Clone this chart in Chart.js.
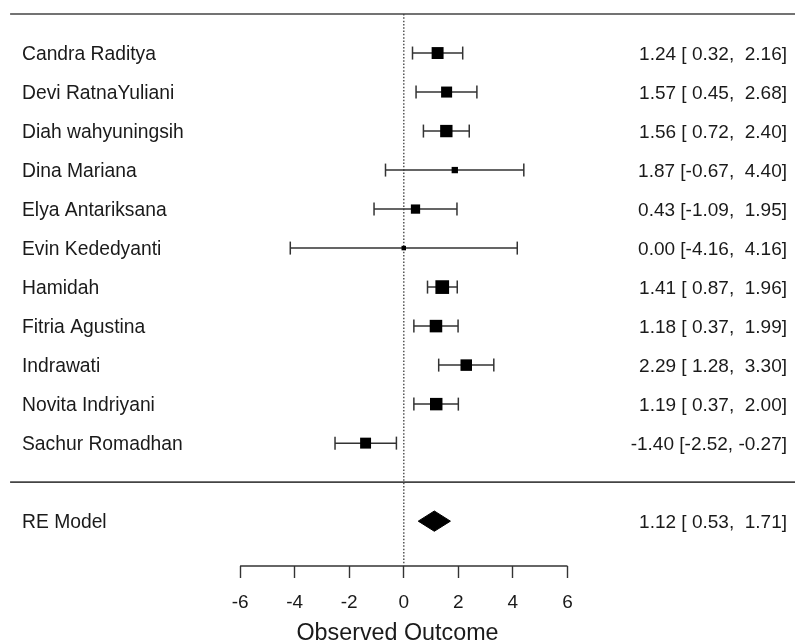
<!DOCTYPE html>
<html>
<head>
<meta charset="utf-8">
<script src="https://cdn.jsdelivr.net/npm/chart.js@4.4.1/dist/chart.umd.min.js"></script>
<style>
  body { margin: 0; background: #fff; }
  canvas { display: block; }
</style>
</head>
<body>
<canvas id="forest" width="795" height="644"></canvas>
<script>
// study data
const studies = ['Candra Raditya', 'Devi RatnaYuliani', 'Diah wahyuningsih', 'Dina Mariana',
  'Elya Antariksana', 'Evin Kededyanti', 'Hamidah', 'Fitria Agustina', 'Indrawati',
  'Novita Indriyani', 'Sachur Romadhan'];
const estimates = [1.24, 1.57, 1.56, 1.87, 0.43, 0.00, 1.41, 1.18, 2.29, 1.19, -1.40];
const ciLower = [0.32, 0.45, 0.72, -0.67, -1.09, -4.16, 0.87, 0.37, 1.28, 0.37, -2.52];
const ciUpper = [2.16, 2.68, 2.40, 4.40, 1.95, 4.16, 1.96, 1.99, 3.30, 2.00, -0.27];
const weights = [10.7, 9.6, 11.2, 4.0, 7.5, 1.8, 12.8, 11.4, 10.2, 11.3, 9.5]; // approx % weight (square size)

const modelLabel = 'RE Model';
const modelEstimate = [1.12];
const modelLower = [0.53];
const modelUpper = [1.71];

const xTicks = [-6, -4, -2, 0, 2, 4, 6];
const xTitle = 'Observed Outcome';

const FONT = "'Liberation Sans', Arial, Helvetica, sans-serif";
const k = studies.length;
const rowOf = i => k - i;
const modelRow = -1;
const yMin = -2.15, yMax = 12.36;
const xMin = -14.80, xMax = 14.34;
const lineLeft = -14.43;

// square side scales with weight (4.5px .. 13.7px)
const wMin = Math.min(...weights), wMax = Math.max(...weights);
const sideOf = w => 4.5 + (w - wMin) / (wMax - wMin) * 9.2;

const squares = estimates.map((e, i) => ({ x: e, y: rowOf(i) }));
const squareRadius = weights.map(w => sideOf(w) / Math.SQRT2);

const ciPoints = [];
const ciRadius = [];
estimates.forEach((e, i) => {
  ciPoints.push({ x: ciLower[i], y: rowOf(i) }, { x: ciUpper[i], y: rowOf(i) }, { x: NaN, y: NaN });
  ciRadius.push(6.5, 6.5, 0);
});

const dh = 0.26;
const diamond = [
  { x: modelLower[0], y: modelRow },
  { x: modelEstimate[0], y: modelRow + dh },
  { x: modelUpper[0], y: modelRow },
  { x: modelEstimate[0], y: modelRow - dh },
  { x: modelLower[0], y: modelRow }
];

const fmt = v => {
  const s = v.toFixed(2);
  return s.length < 5 ? ' ' + s : s;
};
const annot = (e, lo, hi) => e.toFixed(2) + ' [' + fmt(lo) + ', ' + fmt(hi) + ']';

const textPlugin = {
  id: 'forestText',
  afterDraw(chart) {
    const c = chart.ctx;
    const ys = chart.scales.y;
    c.save();
    c.fillStyle = '#1a1a1a';
    c.textBaseline = 'middle';
    const row = (label, note, yv) => {
      const y = ys.getPixelForValue(yv) + 1.5;
      c.font = '19.3px ' + FONT;
      c.textAlign = 'left';
      c.fillText(label, 22, y);
      c.font = '19px ' + FONT;
      c.textAlign = 'right';
      c.fillText(note, 787, y);
    };
    studies.forEach((s, i) => row(s, annot(estimates[i], ciLower[i], ciUpper[i]), rowOf(i)));
    row(modelLabel, annot(modelEstimate[0], modelLower[0], modelUpper[0]), modelRow);
    c.restore();
  }
};

new Chart(document.getElementById('forest'), {
  type: 'scatter',
  data: {
    datasets: [
      {
        data: squares,
        pointStyle: 'rect',
        pointRadius: squareRadius,
        backgroundColor: '#000',
        pointBorderWidth: 0,
        showLine: false
      },
      {
        data: diamond,
        showLine: true,
        pointRadius: 0,
        borderColor: '#000',
        borderWidth: 1,
        backgroundColor: '#000',
        fill: 'shape'
      },
      {
        data: ciPoints,
        showLine: true,
        spanGaps: false,
        borderColor: '#333',
        borderWidth: 1.5,
        pointStyle: 'line',
        rotation: 90,
        pointRadius: ciRadius,
        pointBorderColor: '#333',
        pointBorderWidth: 1.5
      },
      {
        data: [{ x: lineLeft, y: k + 1 }, { x: xMax, y: k + 1 }],
        showLine: true, pointRadius: 0, borderColor: '#444', borderWidth: 1.6
      },
      {
        data: [{ x: lineLeft, y: 0 }, { x: xMax, y: 0 }],
        showLine: true, pointRadius: 0, borderColor: '#444', borderWidth: 1.6
      },
      {
        data: [{ x: 0, y: k + 1 }, { x: 0, y: yMin }],
        showLine: true, pointRadius: 0, borderColor: '#555', borderWidth: 1.5,
        borderDash: [1.5, 1.8]
      },
      {
        data: [{ x: xTicks[0], y: yMin }, { x: xTicks[xTicks.length - 1], y: yMin }],
        showLine: true, pointRadius: 0, borderColor: '#333', borderWidth: 1.4,
        clip: false
      }
    ]
  },
  options: {
    responsive: false,
    animation: false,
    devicePixelRatio: 1,
    events: [],
    layout: { padding: 0, autoPadding: false },
    plugins: {
      legend: { display: false },
      tooltip: { enabled: false }
    },
    scales: {
      x: {
        type: 'linear',
        min: xMin,
        max: xMax,
        afterBuildTicks: scale => { scale.ticks = xTicks.map(v => ({ value: v })); },
        afterFit: scale => { scale.height = 78; },
        border: { display: false },
        grid: {
          drawOnChartArea: false,
          drawTicks: true,
          tickLength: 12,
          tickColor: '#333',
          tickWidth: 1.4
        },
        ticks: {
          color: '#1a1a1a',
          padding: 13.5,
          maxRotation: 0,
          autoSkip: false,
          font: { family: FONT, size: 19 }
        },
        title: {
          display: true,
          text: xTitle,
          color: '#1a1a1a',
          padding: 0,
          font: { family: FONT, size: 23.3, lineHeight: 0.88 }
        }
      },
      y: {
        type: 'linear',
        display: false,
        min: yMin,
        max: yMax
      }
    }
  },
  plugins: [textPlugin]
});
</script>
</body>
</html>
